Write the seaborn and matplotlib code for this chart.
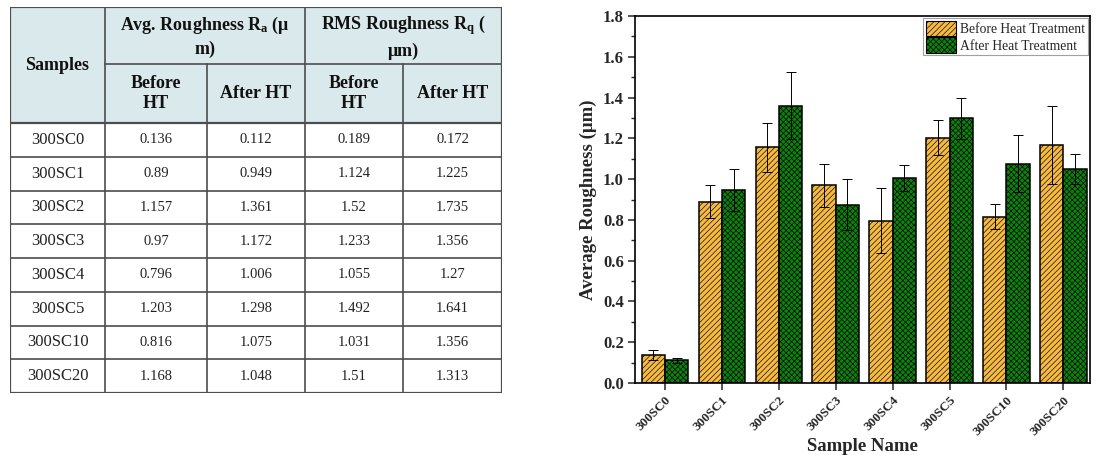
import matplotlib
matplotlib.use("Agg")
import matplotlib.pyplot as plt
from matplotlib.patches import Rectangle, Patch
from matplotlib.ticker import MultipleLocator, FormatStrFormatter
import seaborn as sns
import pandas as pd

# ---------------- data ----------------
samples = ["300SC0", "300SC1", "300SC2", "300SC3", "300SC4", "300SC5", "300SC10", "300SC20"]

# table values
tbl_ra_before = ["0.136", "0.89", "1.157", "0.97", "0.796", "1.203", "0.816", "1.168"]
tbl_ra_after = ["0.112", "0.949", "1.361", "1.172", "1.006", "1.298", "1.075", "1.048"]
tbl_rq_before = ["0.189", "1.124", "1.52", "1.233", "1.055", "1.492", "1.031", "1.51"]
tbl_rq_after = ["0.172", "1.225", "1.735", "1.356", "1.27", "1.641", "1.356", "1.313"]

# chart values
before_vals = [0.136, 0.89, 1.157, 0.97, 0.796, 1.203, 0.816, 1.168]
after_vals = [0.112, 0.949, 1.361, 0.875, 1.006, 1.298, 1.075, 1.048]
before_err = [0.024, 0.08, 0.12, 0.105, 0.16, 0.087, 0.062, 0.19]
after_err = [0.013, 0.103, 0.165, 0.125, 0.063, 0.10, 0.14, 0.073]

series = ["Before Heat Treatment", "After Heat Treatment"]
colors = ["#F7BA40", "#0E820E"]
hatches = ["//////", "xxxxxx"]

# ---------------- style ----------------
sns.set_theme(style="ticks")
plt.rcParams["font.family"] = ["Liberation Serif", "DejaVu Serif"]
plt.rcParams["mathtext.default"] = "regular"
plt.rcParams["hatch.linewidth"] = 0.45
plt.rcParams["hatch.color"] = "black"

fig = plt.figure(figsize=(11.04, 4.55), dpi=100)

# ---------------- table ----------------
tx0, ty_top, ty_bot, tx1 = 10, 7, 393, 502
tax = fig.add_axes([tx0 / 1104, 1 - ty_bot / 455, (tx1 - tx0) / 1104, (ty_bot - ty_top) / 455])
W, H = tx1 - tx0, ty_bot - ty_top
tax.set_xlim(0, W)
tax.set_ylim(H, 0)
tax.axis("off")

col_w = [95, 102, 98, 98, 99]
xs = [0]
for w in col_w:
    xs.append(xs[-1] + w)
h1, h2 = 57, 59
hdr = h1 + h2
row_h = (H - hdr) / len(samples)

header_bg = "#DAEAEC"
line_c = "#4d4d4d"
tax.add_patch(Rectangle((0, 0), W, hdr, facecolor=header_bg, edgecolor="none"))

hfont = dict(fontsize=13, fontweight="bold", ha="center", va="center", color="#111111")
tax.text(xs[0] + col_w[0] / 2, hdr / 2, "Samples", **hfont)
tax.text((xs[1] + xs[3]) / 2, h1 / 2 + 1, "Avg. Roughness R$_a$ (μ\nm)", linespacing=1.4, **hfont)
tax.text((xs[3] + xs[5]) / 2, h1 / 2 + 1, "RMS Roughness R$_q$ (\nμm)", linespacing=1.4, **hfont)
sub = ["Before\nHT", "After HT", "Before\nHT", "After HT"]
for i, s in enumerate(sub):
    tax.text((xs[i + 1] + xs[i + 2]) / 2, h1 + h2 / 2, s, linespacing=1.25, **hfont)

cols = [tbl_ra_before, tbl_ra_after, tbl_rq_before, tbl_rq_after]
for r, name in enumerate(samples):
    yc = hdr + (r + 0.5) * row_h
    tax.text(xs[0] + col_w[0] / 2, yc, name, fontsize=12, ha="center", va="center", color="#222222")
    for c in range(4):
        tax.text((xs[c + 1] + xs[c + 2]) / 2, yc, cols[c][r], fontsize=10.5, ha="center",
                 va="center", color="#222222")

# grid lines
lw_in = 1.2
tax.plot([xs[1], W], [h1, h1], color=line_c, lw=lw_in)
for r in range(len(samples) + 1):
    y = hdr + r * row_h
    tax.plot([0, W], [y, y], color=line_c, lw=1.6 if r == 0 else lw_in)
tax.plot([xs[1], xs[1]], [0, H], color=line_c, lw=lw_in)
tax.plot([xs[3], xs[3]], [0, H], color=line_c, lw=lw_in)
for k in (2, 4):
    tax.plot([xs[k], xs[k]], [h1, H], color=line_c, lw=lw_in)
tax.add_patch(Rectangle((0, 0), W, H, facecolor="none", edgecolor=line_c, lw=1.6))

# ---------------- bar chart ----------------
ax = fig.add_axes([635 / 1104, 1 - 383 / 455, (1090 - 635) / 1104, (383 - 16) / 455])

df = pd.DataFrame({
    "Sample": samples * 2,
    "Condition": [series[0]] * len(samples) + [series[1]] * len(samples),
    "Value": before_vals + after_vals,
})
sns.barplot(data=df, x="Sample", y="Value", hue="Condition", order=samples,
            hue_order=series, palette=colors, saturation=1, width=0.82, errorbar=None,
            edgecolor="black", linewidth=1.1, legend=False, ax=ax)

errs = [before_err, after_err]
for cont, hatch, err in zip(ax.containers, hatches, errs):
    xc, yv = [], []
    for p in cont.patches:
        p.set_hatch(hatch)
        xc.append(p.get_x() + p.get_width() / 2)
        yv.append(p.get_height())
    ax.errorbar(xc, yv, yerr=err, fmt="none", ecolor="black", elinewidth=0.7,
                capsize=3.3, capthick=0.7, zorder=5)

ax.set_ylim(0, 1.8)
ax.set_xlim(-0.53, 7.47)
ax.yaxis.set_major_locator(MultipleLocator(0.2))
ax.yaxis.set_minor_locator(MultipleLocator(0.1))
ax.yaxis.set_major_formatter(FormatStrFormatter("%.1f"))
ax.tick_params(axis="y", which="major", direction="out", length=5, width=1.1,
               labelsize=12, pad=3)
ax.tick_params(axis="y", which="minor", direction="out", length=3, width=1.0)
ax.tick_params(axis="x", direction="out", length=5, width=1.1, labelsize=9.5, pad=3)
for lab in ax.get_yticklabels():
    lab.set_fontweight("bold")
ax.set_xticks(range(len(samples)))
ax.set_xticklabels(samples, rotation=45, ha="right", rotation_mode="anchor", fontweight="bold")
for sp in ax.spines.values():
    sp.set_visible(True)
    sp.set_linewidth(1.2)
    sp.set_color("black")

ax.set_xlabel("Sample Name", fontsize=13.5, fontweight="bold", labelpad=0)
ax.set_ylabel("Average Roughness (μm)", fontsize=13.5, fontweight="bold", labelpad=4)

handles = [Patch(facecolor=c, edgecolor="black", hatch=h, linewidth=0.8, label=s)
           for c, h, s in zip(colors, hatches, series)]
leg = ax.legend(handles=handles, loc="upper right", fontsize=9.8, frameon=True,
                fancybox=False, edgecolor="#888888", borderaxespad=0.15,
                handlelength=2.2, handleheight=1.35, handletextpad=0.3,
                borderpad=0.2, labelspacing=0.1)
leg.get_frame().set_linewidth(0.8)

fig.savefig("out.png", dpi=100)
